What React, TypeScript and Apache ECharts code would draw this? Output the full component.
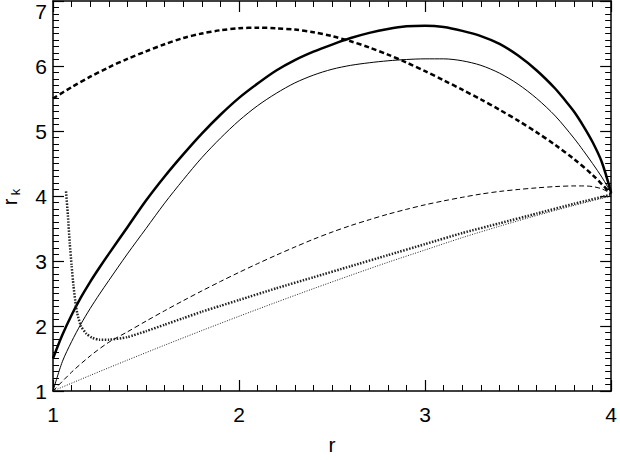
import { useEffect, useRef } from 'react';
import * as echarts from 'echarts';

// ---- data ----
const xTicks = [1, 2, 3, 4];
const yTicks = [1, 2, 3, 4, 5, 6, 7];

const thickSolidR = [1.0, 1.05, 1.1, 1.15, 1.2, 1.25, 1.3, 1.4, 1.5, 1.6, 1.7, 1.8, 1.9, 2.0, 2.1, 2.2, 2.3, 2.4, 2.5, 2.6, 2.7, 2.8, 2.9, 3.0, 3.1, 3.2, 3.3, 3.4, 3.5, 3.6, 3.7, 3.75, 3.8, 3.85, 3.9, 3.95, 4.0];
const thickSolidV = [1.5, 1.86, 2.17, 2.44, 2.68, 2.9, 3.11, 3.52, 3.93, 4.3, 4.64, 4.96, 5.25, 5.51, 5.73, 5.93, 6.09, 6.22, 6.33, 6.43, 6.51, 6.57, 6.61, 6.62, 6.6, 6.54, 6.46, 6.34, 6.16, 5.93, 5.65, 5.48, 5.3, 5.08, 4.83, 4.52, 4.05];

const thinSolidR = [1.0, 1.05, 1.1, 1.15, 1.2, 1.25, 1.3, 1.4, 1.5, 1.6, 1.7, 1.8, 1.9, 2.0, 2.1, 2.2, 2.3, 2.4, 2.5, 2.6, 2.7, 2.8, 2.9, 3.0, 3.1, 3.2, 3.3, 3.4, 3.5, 3.6, 3.7, 3.8, 3.85, 3.9, 3.95, 4.0];
const thinSolidV = [1.0, 1.45, 1.76, 2.03, 2.27, 2.49, 2.7, 3.11, 3.5, 3.89, 4.25, 4.59, 4.89, 5.16, 5.39, 5.58, 5.74, 5.86, 5.95, 6.01, 6.05, 6.08, 6.1, 6.11, 6.11, 6.08, 6.01, 5.89, 5.72, 5.5, 5.23, 4.89, 4.7, 4.5, 4.29, 4.05];

const thickDashR = [1.0, 1.1, 1.2, 1.3, 1.4, 1.5, 1.6, 1.7, 1.8, 1.9, 2.0, 2.1, 2.2, 2.3, 2.4, 2.5, 2.6, 2.7, 2.8, 2.9, 3.0, 3.1, 3.2, 3.3, 3.4, 3.5, 3.6, 3.7, 3.8, 3.9, 4.0];
const thickDashV = [5.5, 5.675, 5.835, 5.98, 6.11, 6.225, 6.335, 6.43, 6.5, 6.55, 6.58, 6.59, 6.58, 6.56, 6.52, 6.46, 6.38, 6.285, 6.175, 6.053, 5.92, 5.78, 5.635, 5.485, 5.327, 5.159, 4.979, 4.784, 4.569, 4.324, 4.034];

const thinDashR = [1.0, 1.1, 1.2, 1.3, 1.4, 1.5, 1.6, 1.7, 1.8, 1.9, 2.0, 2.1, 2.2, 2.3, 2.4, 2.5, 2.6, 2.7, 2.8, 2.9, 3.0, 3.1, 3.2, 3.3, 3.4, 3.5, 3.6, 3.7, 3.8, 3.85, 3.9, 3.95, 4.0];
const thinDashV = [1.0, 1.29, 1.54, 1.75, 1.91, 2.075, 2.235, 2.39, 2.54, 2.685, 2.825, 2.96, 3.09, 3.215, 3.335, 3.445, 3.545, 3.635, 3.72, 3.795, 3.865, 3.925, 3.98, 4.03, 4.07, 4.1, 4.125, 4.145, 4.155, 4.155, 4.145, 4.11, 4.035];

const thinDotR = [1.0, 1.2, 1.4, 1.6, 1.8, 2.0, 2.2, 2.4, 2.6, 2.8, 3.0, 3.2, 3.4, 3.6, 3.8, 4.0];
const thinDotV = [1.0, 1.24, 1.475, 1.705, 1.93, 2.15, 2.365, 2.575, 2.78, 2.98, 3.17, 3.36, 3.535, 3.7, 3.855, 4.0];

const thickDotR = [1.07, 1.08, 1.09, 1.1, 1.11, 1.12, 1.13, 1.15, 1.18, 1.21, 1.25, 1.3, 1.4, 1.5, 1.6, 1.7, 1.8, 1.9, 2.0, 2.2, 2.4, 2.6, 2.8, 3.0, 3.2, 3.4, 3.6, 3.8, 4.0];
const thickDotV = [4.07, 3.7, 3.28, 2.93, 2.62, 2.38, 2.2, 2.0, 1.88, 1.82, 1.79, 1.79, 1.83, 1.92, 2.02, 2.12, 2.22, 2.31, 2.4, 2.58, 2.75, 2.92, 3.09, 3.26, 3.43, 3.58, 3.73, 3.88, 4.02];

const xName = 'r';
const yName = 'r';
const ySub = 'k';

const zip = (a: number[], b: number[]) => a.map((x, i) => [x, b[i]]);

const FONT = 'Liberation Sans';

export default function App() {
  const ref = useRef<HTMLDivElement>(null);
  useEffect(() => {
    if (!ref.current) return;
    const chart = echarts.init(ref.current, undefined, { renderer: 'svg' });
    const axisCommon = {
      type: 'value' as const,
      interval: 1,
      axisLine: { show: true, lineStyle: { color: '#000', width: 1.5 } },
      axisTick: { show: true, inside: true, length: 11, lineStyle: { color: '#000', width: 1.2 } },
      minorTick: { show: true, splitNumber: 10, length: 6, lineStyle: { color: '#000', width: 1 } },
      splitLine: { show: false },
      minorSplitLine: { show: false },
    };
    const lineSeries = (data: number[][], width: number, type: any, smooth: number | boolean, color = '#000') => ({
      type: 'line' as const,
      data,
      showSymbol: false,
      symbol: 'none',
      smooth,
      lineStyle: { color, width, type },
      xAxisIndex: 0,
      yAxisIndex: 0,
    });
    chart.setOption({
      animation: false,
      backgroundColor: '#fff',
      grid: { left: 53, right: 7, top: 1, bottom: 63, containLabel: false },
      xAxis: [
        {
          ...axisCommon,
          min: xTicks[0],
          max: xTicks[xTicks.length - 1],
          position: 'bottom',
          name: xName,
          nameLocation: 'middle',
          nameGap: 43,
          nameTextStyle: { fontFamily: FONT, fontSize: 21, color: '#000' },
          axisLabel: { show: true, margin: 13, fontFamily: FONT, fontSize: 21, color: '#000' },
        },
        {
          ...axisCommon,
          min: xTicks[0],
          max: xTicks[xTicks.length - 1],
          position: 'top',
          axisLabel: { show: false },
        },
      ],
      yAxis: [
        {
          ...axisCommon,
          min: yTicks[0],
          max: yTicks[yTicks.length - 1],
          position: 'left',
          axisLabel: {
            show: true,
            margin: 6,
            fontFamily: FONT,
            fontSize: 21,
            color: '#000',
            verticalAlignMaxLabel: 'top',
          },
        },
        {
          ...axisCommon,
          min: yTicks[0],
          max: yTicks[yTicks.length - 1],
          position: 'right',
          axisLabel: { show: false },
        },
      ],
      graphic: [
        {
          type: 'group',
          x: 10,
          y: 202,
          rotation: Math.PI / 2,
          children: [
            {
              type: 'text',
              x: 0,
              y: 0,
              style: { text: yName, fontFamily: FONT, fontSize: 20, lineHeight: 20, fill: '#000', textAlign: 'center', textVerticalAlign: 'middle' },
            },
            {
              type: 'text',
              x: 10,
              y: 5,
              style: { text: ySub, fontFamily: FONT, fontSize: 13, lineHeight: 13, fill: '#000', textAlign: 'center', textVerticalAlign: 'middle' },
            },
          ],
        },
      ],
      series: [
        lineSeries(zip(thickSolidR, thickSolidV), 2.5, 'solid', 0.3),
        lineSeries(zip(thinSolidR, thinSolidV), 1, 'solid', 0.3),
        lineSeries(zip(thickDashR, thickDashV), 2.5, [5, 3], 0.3),
        lineSeries(zip(thinDashR, thinDashV), 1, [5, 3], 0.3),
        lineSeries(zip(thinDotR, thinDotV), 1, [1, 1.5], 0.3, '#222'),
        lineSeries(zip(thickDotR, thickDotV), 2.5, [1.5, 1.5], 0.2, '#222'),
      ],
    });
    return () => chart.dispose();
  }, []);
  return <div ref={ref} style={{ position: 'fixed', left: 0, top: 0, width: 620, height: 460 }} />;
}
